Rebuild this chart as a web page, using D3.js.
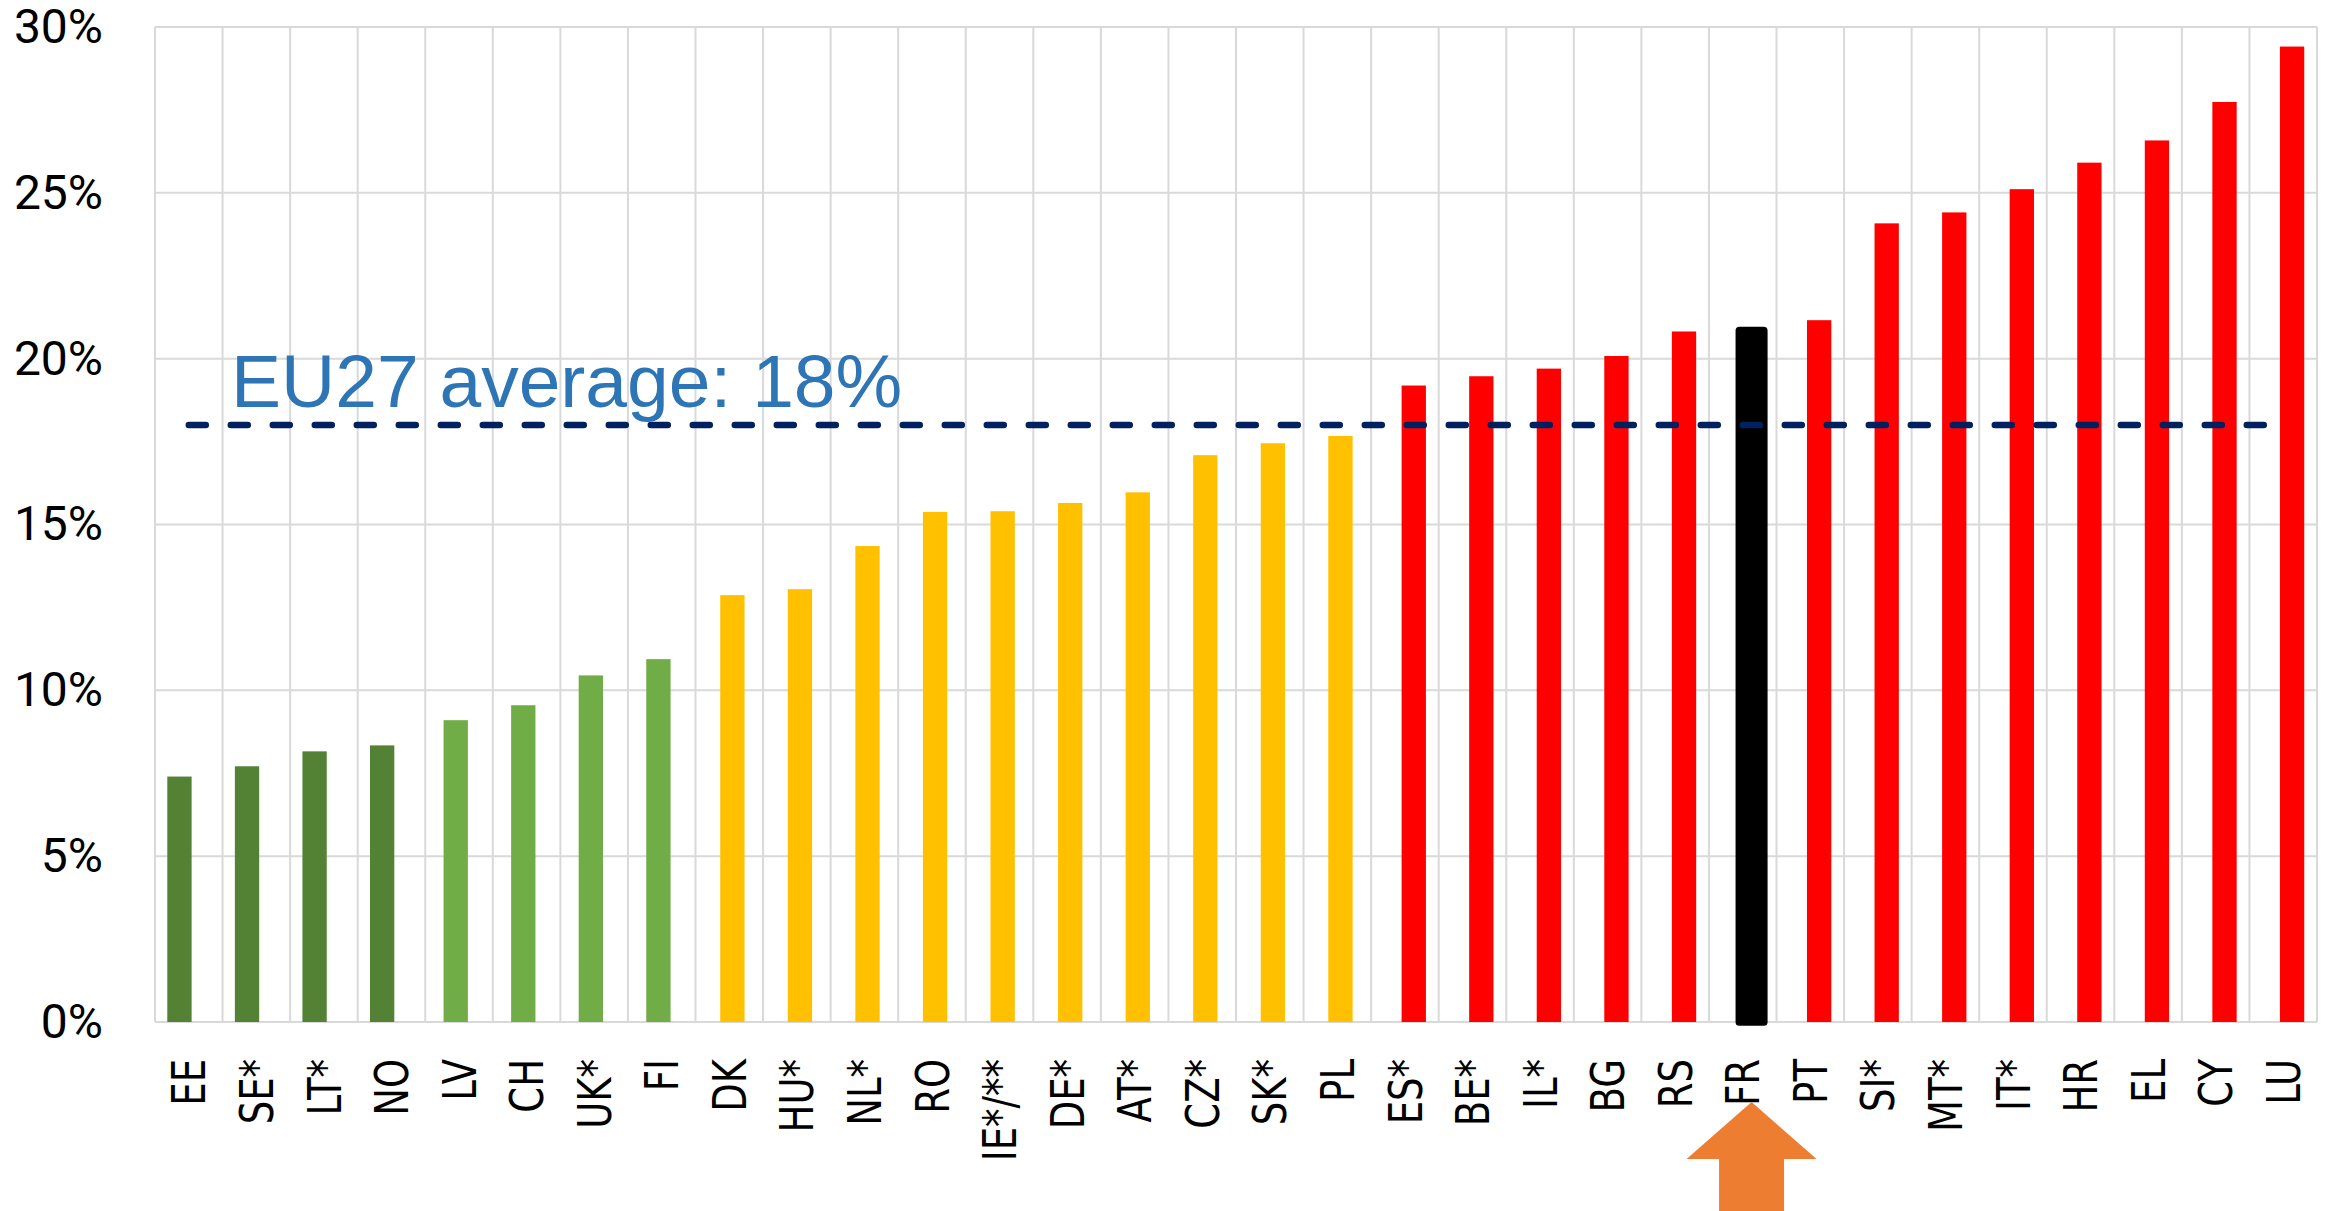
<!DOCTYPE html>
<html>
<head>
<meta charset="utf-8">
<script src="https://cdn.jsdelivr.net/npm/d3@7"></script>
<style>
  html, body { margin: 0; padding: 0; background: #fff; overflow: hidden; }
  .ylab text { font-family: Roboto, "Liberation Sans", sans-serif; font-size: 48px; fill: #000; }
  .xlab text { font-family: "DejaVu Sans", Verdana, sans-serif; font-size: 37px; fill: #000; }
</style>
</head>
<body>
<div id="chart"></div>
<script>
// countries, sorted by value
const countries = ["EE", "SE*", "LT*", "NO", "LV", "CH", "UK*", "FI", "DK", "HU*", "NL*", "RO",
    "IE*/**", "DE*", "AT*", "CZ*", "SK*", "PL", "ES*", "BE*", "IL*", "BG", "RS", "FR", "PT",
    "SI*", "MT*", "IT*", "HR", "EL", "CY", "LU"];
const values = [7.40, 7.71, 8.16, 8.34, 9.10, 9.55, 10.45, 10.94, 12.87, 13.05, 14.35, 15.38,
    15.40, 15.65, 15.97, 17.09, 17.45, 17.67, 19.19, 19.47, 19.70, 20.08, 20.82, 20.85, 21.16,
    24.08, 24.41, 25.11, 25.91, 26.58, 27.74, 29.41];
const tiers = ["dark", "dark", "dark", "dark", "light", "light", "light", "light",
    "yellow", "yellow", "yellow", "yellow", "yellow", "yellow", "yellow", "yellow", "yellow", "yellow",
    "red", "red", "red", "red", "red", "focus", "red", "red", "red", "red", "red", "red", "red", "red"];
const yTicks = [0, 5, 10, 15, 20, 25, 30];
const euAverage = 18;
const averageLabel = "EU27 average: 18%";
const highlight = "FR";

const W = 2333, H = 1211;
const margin = { top: 27, right: 16, bottom: 189, left: 155 };

// colour and position within the band for each tier
const tierColor = { dark: "#548235", light: "#70AD47", yellow: "#FFC000", red: "#FF0000", focus: "#000000" };
const tierShift = { dark: 0.182, light: 0.271, yellow: 0.366, red: 0.451, focus: 0.451 };
const barFrac = 0.36;

const data = countries.map((c, i) => ({ name: c, value: values[i], tier: tiers[i] }));

const svg = d3.select("#chart").append("svg")
    .attr("width", W)
    .attr("height", H);

const x = d3.scaleBand()
    .domain(countries)
    .range([margin.left, W - margin.right])
    .padding(0);

const y = d3.scaleLinear()
    .domain([0, 30])
    .range([H - margin.bottom, margin.top]);

const bw = x.bandwidth();

// grid
const grid = svg.append("g").attr("stroke", "#D9D9D9").attr("stroke-width", 2);
grid.selectAll("line.h")
    .data(yTicks)
    .join("line")
    .attr("class", "h")
    .attr("x1", margin.left)
    .attr("x2", W - margin.right)
    .attr("y1", d => y(d))
    .attr("y2", d => y(d));

const edges = countries.map(c => x(c)).concat([x.range()[1]]);
grid.selectAll("line.v")
    .data(edges)
    .join("line")
    .attr("class", "v")
    .attr("x1", d => d)
    .attr("x2", d => d)
    .attr("y1", y(30))
    .attr("y2", y(0));

// y axis labels
svg.append("g")
    .attr("class", "ylab")
    .attr("transform", `translate(${margin.left},0)`)
    .call(d3.axisLeft(y).tickValues(yTicks).tickSize(0).tickPadding(52).tickFormat(d => d + "%"))
    .call(g => g.select(".domain").remove());

// bars
svg.append("g")
    .selectAll("rect")
    .data(data)
    .join("rect")
    .attr("x", d => x(d.name) + bw * tierShift[d.tier])
    .attr("width", bw * barFrac)
    .attr("y", d => y(d.value))
    .attr("height", d => y(0) - y(d.value))
    .attr("fill", d => tierColor[d.tier])
    .attr("stroke", d => d.tier === "focus" ? "#000" : "none")
    .attr("stroke-width", 7.7)
    .attr("stroke-linejoin", "round");

// average line
const firstC = x(countries[0]) + bw / 2;
const lastC = x(countries[countries.length - 1]) + bw / 2;
svg.append("line")
    .attr("x1", firstC)
    .attr("x2", lastC)
    .attr("y1", y(euAverage))
    .attr("y2", y(euAverage))
    .attr("stroke", "#002060")
    .attr("stroke-width", 6.5)
    .attr("stroke-linecap", "round")
    .attr("stroke-dasharray", "17,25");

svg.append("text")
    .attr("x", x(countries[0]) + 76)
    .attr("y", y(euAverage) - 18)
    .attr("font-family", "'Liberation Sans', Arial, sans-serif")
    .attr("font-size", 75)
    .attr("fill", "#2E75B6")
    .text(averageLabel);

// x axis labels (glyphs a bit wider across, like the source)
svg.append("g")
    .attr("class", "xlab")
    .attr("transform", `translate(0,${y(0)})`)
    .call(d3.axisBottom(x).tickSize(0))
    .call(g => g.select(".domain").remove())
    .selectAll("text")
    .attr("transform", "rotate(-90) scale(1,1.25)")
    .attr("x", -37)
    .attr("y", 0)
    .attr("dy", "0.36em")
    .attr("text-anchor", "end");

// arrow under the highlighted country
const ax = x(highlight) + bw * tierShift.focus + bw * barFrac / 2;
const tipY = 1102, headY = 1159;
svg.append("path")
    .attr("d", `M${ax},${tipY} L${ax + 65},${headY} L${ax + 32.5},${headY} L${ax + 32.5},${H + 5}
        L${ax - 32.5},${H + 5} L${ax - 32.5},${headY} L${ax - 65},${headY} Z`)
    .attr("fill", "#ED7D31");
</script>
</body>
</html>
